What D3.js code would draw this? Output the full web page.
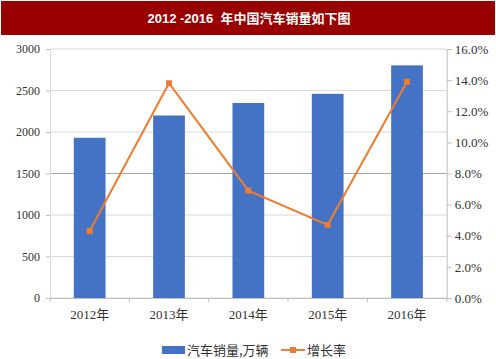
<!DOCTYPE html>
<html><head><meta charset="utf-8">
<script src="https://cdn.jsdelivr.net/npm/d3@7/dist/d3.min.js"></script>
<style>
body{margin:0;background:#fff;}
svg{display:block;}
</style></head>
<body><svg id="c" width="496" height="359"></svg>
<script>
const title = "2012 -2016  年中国汽车销量如下图";
const categories = ["2012年","2013年","2014年","2015年","2016年"];
const sales = [1930.6, 2198.4, 2349.2, 2459.8, 2802.8];
const growth = [4.3, 13.8, 6.9, 4.7, 13.9];
const leftTicks = [0,500,1000,1500,2000,2500,3000];
const rightTicks = [0,2,4,6,8,10,12,14,16];
const seriesNames = ["汽车销量,万辆","增长率"];

const svg = d3.select("#c");
const serif = "'Liberation Serif','Times New Roman','Noto Sans CJK SC',serif";
const cjk = "'Noto Sans CJK SC','Liberation Sans',sans-serif";

// title bar
svg.append("rect").attr("x",1).attr("y",1).attr("width",494).attr("height",34).attr("fill","#990000");
svg.append("text").attr("x",249).attr("y",23).attr("text-anchor","middle")
  .attr("fill","#fff").attr("font-weight","bold").attr("font-size",13)
  .style("white-space","pre")
  .attr("font-family","'Liberation Sans','Noto Sans CJK SC',sans-serif").text(title);

const L=50, R=446.7, T=49, B=298;
const x = d3.scaleBand().domain(categories).range([L,R]).paddingInner(0.6).paddingOuter(0.3);
const yL = d3.scaleLinear().domain([0,3000]).range([B,T]);
const yR = d3.scaleLinear().domain([0,16]).range([B,T]);

// gridlines
svg.append("g").selectAll("line").data(leftTicks).join("line")
  .attr("x1",L).attr("x2",R).attr("y1",d=>yL(d)).attr("y2",d=>yL(d))
  .attr("stroke",d=>d===1500?"#a6a6a6":"#d9d9d9").attr("stroke-width",1);

// left axis
const gl = svg.append("g").attr("transform",`translate(${L},0)`)
  .call(d3.axisLeft(yL).tickValues(leftTicks).tickSize(4).tickPadding(6).tickFormat(d3.format("d")));
gl.select(".domain").attr("stroke","#d9d9d9");
gl.selectAll(".tick line").attr("stroke","#bfbfbf");
gl.selectAll("text").attr("font-family",serif).attr("font-size",12).attr("fill","#333");

// right axis
const gr = svg.append("g").attr("transform",`translate(${R},0)`)
  .call(d3.axisRight(yR).tickValues(rightTicks).tickSize(5).tickPadding(3).tickFormat(d=>d.toFixed(1)+"%"));
gr.select(".domain").attr("stroke","#bfbfbf");
gr.selectAll(".tick line").attr("stroke","#bfbfbf");
gr.selectAll("text").attr("font-family",serif).attr("font-size",13).attr("fill","#333");

// bars
svg.append("g").selectAll("rect").data(sales).join("rect")
  .attr("x",(d,i)=>x(categories[i])).attr("width",x.bandwidth())
  .attr("y",d=>yL(d)).attr("height",d=>B-yL(d)).attr("fill","#4472C4");

// x axis
const gx = svg.append("g").attr("transform",`translate(0,${B})`)
  .call(d3.axisBottom(x).tickSize(0).tickPadding(12));
gx.select(".domain").attr("stroke","#bfbfbf");
gx.selectAll("text").attr("font-family",serif).attr("font-size",13).attr("fill","#333");
// category boundary ticks
const bounds = categories.map(c=>x(c)-x.step()*x.paddingInner()/2).concat([R]);
svg.append("g").selectAll("line").data(bounds).join("line")
  .attr("x1",d=>d).attr("x2",d=>d).attr("y1",B).attr("y2",B+4).attr("stroke","#bfbfbf");

// line
const line = d3.line().x((d,i)=>x(categories[i])+x.bandwidth()/2).y(d=>yR(d));
svg.append("path").datum(growth).attr("d",line).attr("fill","none").attr("stroke","#ED7D31").attr("stroke-width",2);
svg.append("g").selectAll("rect").data(growth).join("rect")
  .attr("x",(d,i)=>x(categories[i])+x.bandwidth()/2-3).attr("y",d=>yR(d)-3)
  .attr("width",6).attr("height",6).attr("fill","#ED7D31");

// legend
const lg = svg.append("g");
lg.append("rect").attr("x",162).attr("y",346).attr("width",23).attr("height",8).attr("fill","#4472C4");
lg.append("text").attr("x",187).attr("y",355).attr("font-family",cjk).attr("font-size",13).attr("fill","#333").text(seriesNames[0]);
lg.append("line").attr("x1",281).attr("x2",305).attr("y1",350).attr("y2",350).attr("stroke","#ED7D31").attr("stroke-width",2);
lg.append("rect").attr("x",290).attr("y",347).attr("width",6).attr("height",6).attr("fill","#ED7D31");
lg.append("text").attr("x",307).attr("y",355).attr("font-family",cjk).attr("font-size",13).attr("fill","#333").text(seriesNames[1]);
</script></body></html>
